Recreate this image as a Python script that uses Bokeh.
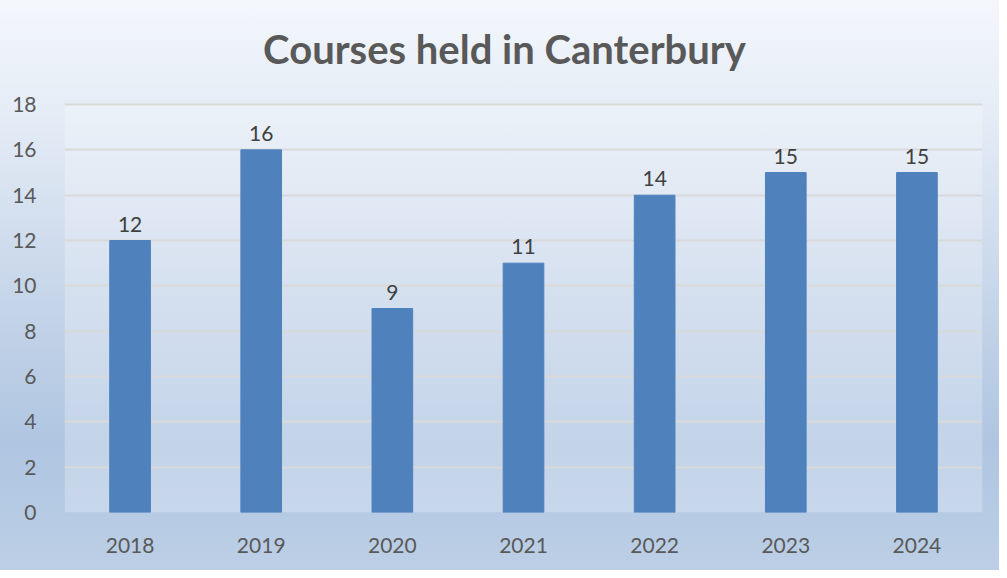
from bokeh.plotting import figure
from bokeh.models import ColumnDataSource, LabelSet, Label, BoxAnnotation
from bokeh.core.properties import value
from bokeh.embed import file_html
from bokeh.resources import INLINE

years = ["2018", "2019", "2020", "2021", "2022", "2023", "2024"]
courses = [12, 16, 9, 11, 14, 15, 15]
y_ticks = [0, 2, 4, 6, 8, 10, 12, 14, 16, 18]
title_text = "Courses held in Canterbury"

src = ColumnDataSource(dict(x=years, y=courses, label=[str(v) for v in courses]))

p = figure(x_range=years, y_range=(0, 22.59), width=999, height=570,
           output_backend="svg", toolbar_location=None,
           min_border_left=64, min_border_right=17, min_border_top=0, min_border_bottom=58)
p.styles = {
    "background": "linear-gradient(to bottom, #f4f7fc 0%, #e5ecf6 20%, #c8d7ea 50%, #afc5e1 78%, #bccfe6 100%)",
    "box-shadow": "-1px -1px 0 #d9d9d9",
}
p.border_fill_alpha = 0
p.background_fill_alpha = 0
p.outline_line_color = None

plot_area = BoxAnnotation(bottom=0, top=18, fill_color="white", fill_alpha=0.25,
                          line_color=None, level="image")
p.add_layout(plot_area)

p.vbar(x="x", top="y", width=0.31, source=src, fill_color="#4f81bd", line_color="#4f81bd")

labels = LabelSet(x="x", y="y", text="label", source=src, text_align="center",
                  text_baseline="bottom", y_offset=9, text_font=value("Lato"),
                  text_font_size="21px", text_color="#404040")
p.add_layout(labels)

title = Label(x=3.355, y=20.47, text=title_text, text_align="center", text_baseline="middle",
              text_font="Lato", text_font_style="bold", text_font_size="40px",
              text_color="#595959")
p.add_layout(title)

p.ygrid.ticker = y_ticks
p.yaxis.ticker = y_ticks
p.ygrid.grid_line_color = "#d9d9d9"
p.ygrid.grid_line_width = 2
p.xgrid.grid_line_color = None

for ax in (p.xaxis, p.yaxis):
    ax.axis_line_color = None
    ax.major_tick_line_color = None
    ax.minor_tick_line_color = None
    ax.major_label_text_font = "Lato"
    ax.major_label_text_font_size = "21px"
    ax.major_label_text_color = "#595959"
p.yaxis.major_label_standoff = 22
p.xaxis.major_label_standoff = 19

open("out.html", "w").write(file_html(p, INLINE))
